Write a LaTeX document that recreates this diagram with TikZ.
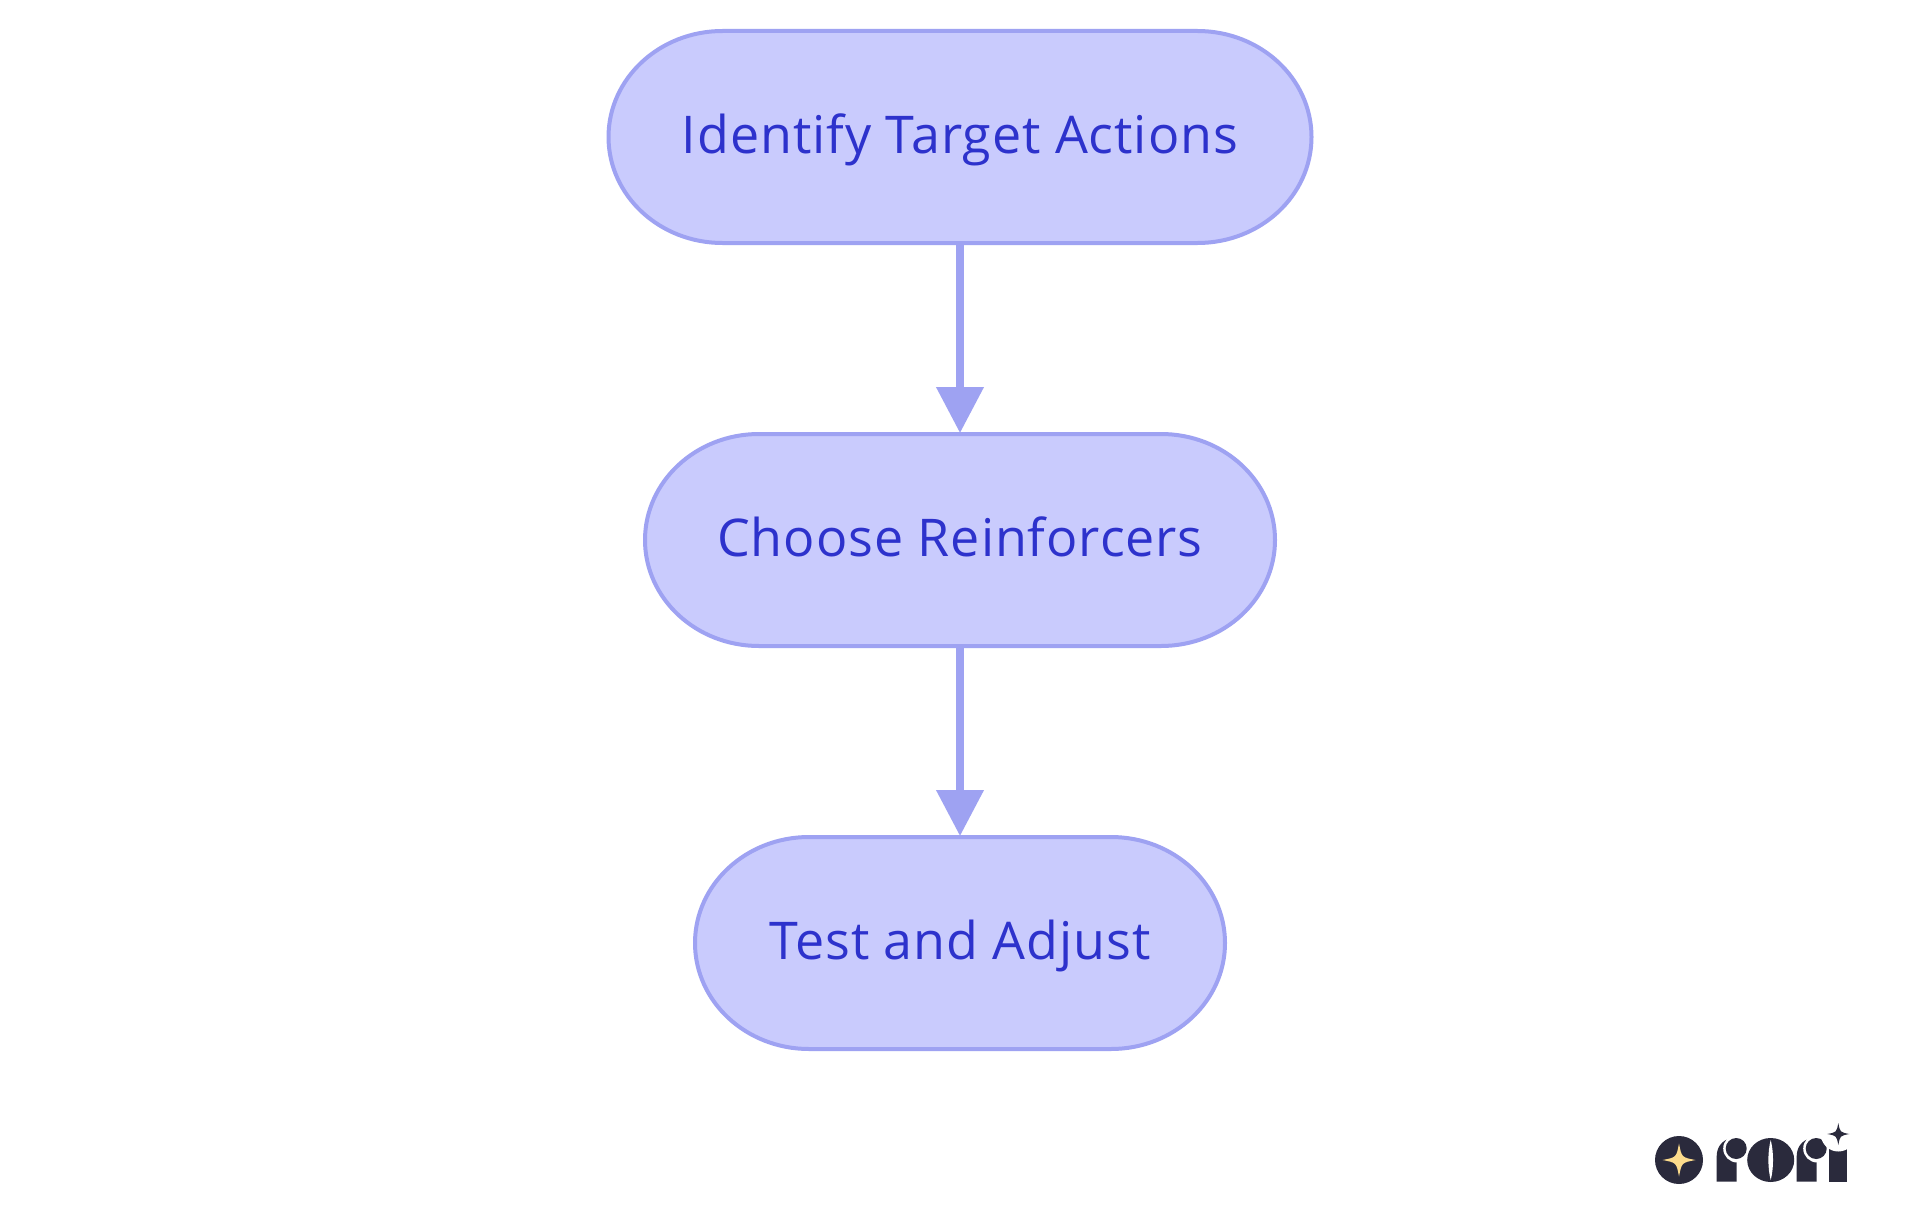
\documentclass[tikz,border=0pt]{standalone}
\usepackage{fontspec}
\setmainfont{Open Sans}[Ligatures=NoCommon,LetterSpace=1.8]
\usetikzlibrary{arrows.meta}
\definecolor{nodeline}{HTML}{9EA2F2}
\definecolor{nodefill}{HTML}{C9CBFD}
\definecolor{nodetext}{HTML}{2D32CC}
\definecolor{logoink}{HTML}{2A2A3C}
\definecolor{logostar}{HTML}{FDDC8C}
\tikzset{
  x=1pt,y=-1pt,
  pillshape/.style={draw=nodeline,fill=nodefill,line width=4pt},
  pilltext/.style={text=nodetext,font=\fontsize{52}{62}\selectfont,text height=42pt,text depth=10pt,
    inner sep=0pt,outer sep=0pt,minimum height=215pt},
  flow/.style={draw=nodeline,line width=7.5pt,-{Triangle[length=46pt,width=46pt,fill=nodeline]},shorten >=-0.5pt,shorten <=-1pt},
  logodark/.style={fill=logoink,draw=none},
  logogap/.style={fill=white,draw=none},
  logogold/.style={fill=logostar,draw=none}
}
% half width, centre y, name, text
\newcommand{\pillbox}[4]{%
  \path[pillshape] (960-#1+114,#2-106) -- (960+#1-114,#2-106)
    arc[start angle=270,end angle=360,x radius=114,y radius=106]
    arc[start angle=0,end angle=90,x radius=114,y radius=106]
    -- (960-#1+114,#2+106)
    arc[start angle=90,end angle=180,x radius=114,y radius=106]
    arc[start angle=180,end angle=270,x radius=114,y radius=106] -- cycle;
  \node[pilltext,minimum width=2*#1pt] (#3) at (960,#2) {#4};
}
% four-pointed concave star
\newcommand{\logostar}[5]{%
  \fill[#5] (#1,#2-#3) .. controls (#1+#4*0.16,#2-#4*0.16) .. (#1+#3,#2)
     .. controls (#1+#4*0.16,#2+#4*0.16) .. (#1,#2+#3)
     .. controls (#1-#4*0.16,#2+#4*0.16) .. (#1-#3,#2)
     .. controls (#1-#4*0.16,#2-#4*0.16) .. (#1,#2-#3) -- cycle;
}
% logo letter r with left edge #1
\newcommand{\logoar}[1]{%
  \fill[logodark] (#1,1181.7) -- (#1,1156) .. controls (#1,1145) and (#1+8,1137.5) .. (#1+20,1137.5) -- (#1+20,1181.7) -- cycle;
  \fill[logogap] (#1+20.5,1148.5) circle[radius=14];
  \fill[logodark] (#1+19.5,1148.5) circle[radius=10.5];
}
\begin{document}
\begin{tikzpicture}
\useasboundingbox (0,0) rectangle (1920,1215);
\fill[white] (0,0) rectangle (1920,1215);
\pillbox{351.5}{137}{a}{Identify Target Actions}
\pillbox{315}{540}{b}{Choose Reinforcers}
\pillbox{265}{943}{c}{Test and Adjust}
\draw[flow] (a) -- (b);
\draw[flow] (b) -- (c);
% logo
\fill[logodark] (1679,1160) circle[radius=24];
\logostar{1679}{1160}{16.5}{16.5}{logogold}
\logoar{1716.7}
\fill[logodark] (1770.7,1160) ellipse[x radius=23.5,y radius=22];
\fill[logogap] (1770.7,1140) .. controls (1773.8,1152) and (1773.8,1168) .. (1770.7,1180)
   .. controls (1767.6,1168) and (1767.6,1152) .. (1770.7,1140) -- cycle;
\logoar{1796.7}
\fill[logodark] (1828.8,1147) rectangle (1847,1181.7);
\fill[logogap] (1838.3,1134) circle[radius=17.5];
\logostar{1838.3}{1134}{11}{11}{logodark}
\end{tikzpicture}
\end{document}
